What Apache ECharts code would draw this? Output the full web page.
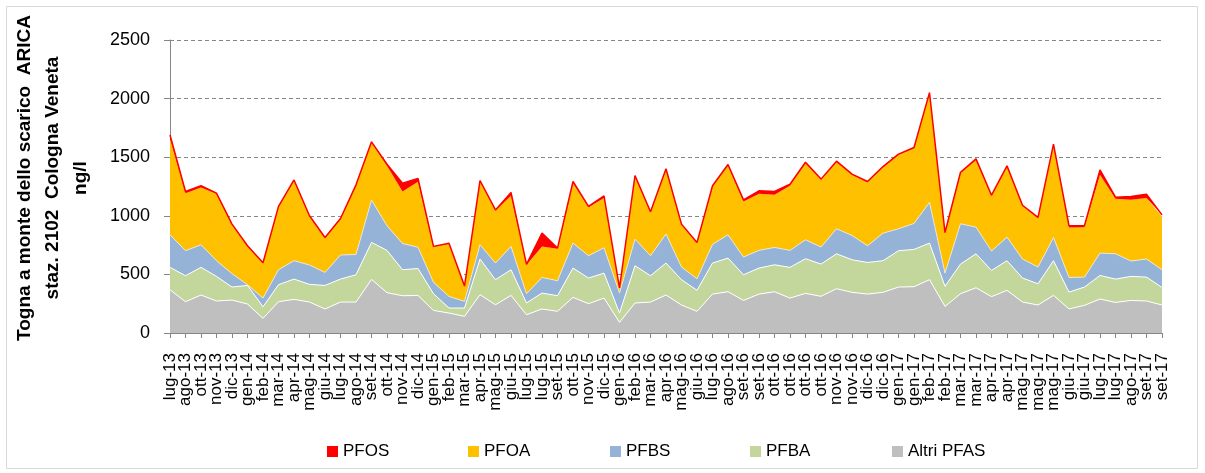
<!DOCTYPE html>
<html>
<head>
<meta charset="utf-8">
<script src="https://cdn.jsdelivr.net/npm/echarts@6/dist/echarts.min.js"></script>
<style>
html,body{margin:0;padding:0;background:#fff;}
#chart{width:1205px;height:473px;}
</style>
</head>
<body>
<div id="chart"></div>
<script>
const categories = ['lug-13','ago-13','ott-13','nov-13','dic-13','gen-14','feb-14','mar-14','apr-14','mag-14','giu-14','lug-14','ago-14','set-14','ott-14','nov-14',
'dic-14','gen-15','feb-15','mar-15','apr-15','mag-15','giu-15','lug-15','lug-15','set-15','ott-15','nov-15','dic-15','gen-16','feb-16','mar-16',
'apr-16','mag-16','giu-16','lug-16','ago-16','set-16','set-16','ott-16','ott-16','ott-16','ott-16','nov-16','nov-16','dic-16','dic-16','gen-17',
'gen-17','feb-17','feb-17','mar-17','mar-17','apr-17','apr-17','mag-17','mag-17','mag-17','giu-17','giu-17','lug-17','lug-17','ago-17','set-17','set-17'];

const altriPFAS = [369,267,324,273,281,247,125,267,287,264,205,264,264,457,344,318,320,193,170,142,327,241,321,156,205,185,304,250,298,91,256,264,324,239,185,332,352,278,332,352,298,338,313,378,347,332,347,392,395,455,227,335,386,310,364,264,239,321,205,236,290,261,278,273,239];
const PFBA = [191,222,236,210,111,159,99,145,173,151,201,196,233,316,361,222,230,142,43,71,304,214,219,100,136,133,250,219,213,79,318,225,273,216,179,265,287,219,222,230,262,296,275,298,278,270,270,310,318,312,171,253,290,224,253,205,181,296,144,156,201,199,205,204,150];
const PFBS = [278,213,193,134,114,6,74,128,157,165,111,205,173,361,210,224,182,97,99,57,122,142,199,79,133,128,213,190,216,171,227,170,248,108,99,159,199,151,151,148,145,161,145,213,207,142,235,187,222,347,113,344,227,165,201,162,143,198,125,85,191,216,131,154,151];
const PFOA = [824,491,488,571,417,327,299,534,684,414,293,307,586,491,511,443,558,301,449,127,540,448,432,247,265,273,511,415,424,42,534,369,547,360,304,494,588,474,483,449,551,654,574,571,518,543,563,631,642,932,341,432,574,471,602,454,417,790,427,426,668,469,522,520,454];
const PFOS = [28,14,15,5,6,5,3,6,5,6,5,5,8,6,14,71,28,6,5,3,8,5,28,4,113,5,15,6,19,2,9,6,10,6,6,6,12,14,25,28,14,8,6,6,6,6,5,6,6,5,5,8,9,6,6,5,6,6,14,15,42,14,29,34,14];

const yTicks = {min:0, max:2500, interval:500};
const legendOrder = ['PFOS','PFOA','PFBS','PFBA','Altri PFAS'];
const yTitle = 'Togna a monte dello scarico  ARICA\nstaz. 2102  Cologna Veneta\nng/l';

const FONT = '"Liberation Sans", Arial, sans-serif';
const chart = echarts.init(document.getElementById('chart'), null, {renderer:'canvas'});

function areaSeries(name, data, color, line) {
  return {
    name: name, type: 'line', stack: 'total', data: data,
    symbol: 'none', smooth: false,
    lineStyle: line,
    areaStyle: {color: color, opacity: 1},
    itemStyle: {color: color},
    emphasis: {disabled: true},
    z: 2
  };
}

const legendLefts = [322, 463, 605, 745, 887];
const legends = legendOrder.map((name, i) => ({
  data: [name],
  top: 438, left: legendLefts[i],
  icon: 'rect', itemWidth: 11, itemHeight: 11,
  textStyle: {fontFamily: FONT, fontSize: 17, color: '#000'},
  selectedMode: false
}));

chart.setOption({
  animation: false,
  backgroundColor: '#fff',
  grid: {left: 170, right: 43, top: 40, bottom: 140, containLabel: false},
  legend: legends,
  xAxis: {
    type: 'category', data: categories, boundaryGap: false,
    axisLine: {lineStyle: {color: '#868686', width: 1}},
    axisTick: {show: true, interval: 0, length: 5, lineStyle: {color: '#868686'}},
    axisLabel: {interval: 0, rotate: 90, margin: 20, fontFamily: FONT, fontSize: 17, color: '#000'},
    splitLine: {show: false}
  },
  yAxis: {
    type: 'value', min: yTicks.min, max: yTicks.max, interval: yTicks.interval,
    axisLine: {show: true, lineStyle: {color: '#868686', width: 1}},
    axisTick: {show: true, length: 6, lineStyle: {color: '#868686'}},
    axisLabel: {margin: 20, fontFamily: FONT, fontSize: 18, color: '#000', formatter: v => String(v)},
    splitLine: {show: true, lineStyle: {color: '#868686', type: [4, 3], width: 1}}
  },
  graphic: [
    {type: 'rect', shape: {x: 6.5, y: 6.5, width: 1191, height: 462}, style: {fill: 'none', stroke: '#d9d9d9', lineWidth: 1}, silent: true, z: -10},
    {type: 'text', x: 53, y: 178, rotation: Math.PI / 2,
      style: {text: yTitle, font: 'bold 19px ' + FONT, fill: '#000', align: 'center', verticalAlign: 'middle', lineHeight: 28}, silent: true}
  ],
  series: [
    areaSeries('Altri PFAS', altriPFAS, '#BFBFBF', {color: '#ffffff', width: 1}),
    areaSeries('PFBA', PFBA, '#C3D69B', {color: '#ffffff', width: 1}),
    areaSeries('PFBS', PFBS, '#95B3D7', {color: '#e8eef6', width: 0.8}),
    areaSeries('PFOA', PFOA, '#FFC000', {width: 0}),
    areaSeries('PFOS', PFOS, '#FF0000', {color: '#FF0000', width: 1.5})
  ]
});
</script>
</body>
</html>
